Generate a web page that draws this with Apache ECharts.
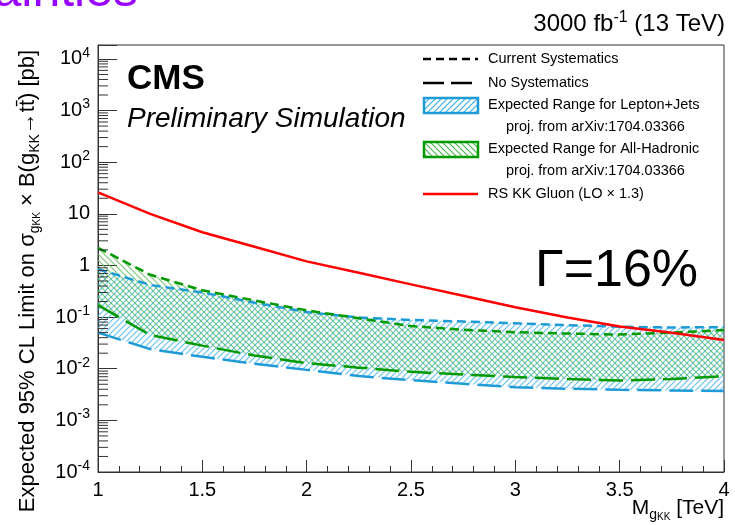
<!DOCTYPE html>
<html>
<head>
<meta charset="utf-8">
<script src="https://cdn.jsdelivr.net/npm/echarts@6/dist/echarts.min.js"></script>
<style>
  html, body { margin: 0; padding: 0; background: #fff; }
  #chart { width: 735px; height: 525px; }
</style>
</head>
<body>
<div id="chart"></div>
<script>
const FONT = '"Liberation Sans", Arial, Helvetica, sans-serif';

// KK gluon mass [TeV]
const mass = [1, 1.25, 1.5, 1.75, 2, 2.25, 2.5, 2.75, 3, 3.25, 3.5, 3.75, 4];
// lepton+jets expected range (upper = current syst, lower = no syst)
const ljCurrent = [0.85, 0.42, 0.30, 0.19, 0.125, 0.098, 0.088, 0.082, 0.076, 0.070, 0.065, 0.063, 0.064];
const ljNoSyst = [0.050, 0.024, 0.017, 0.0125, 0.0095, 0.0072, 0.0060, 0.0051, 0.0044, 0.0041, 0.0039, 0.0038, 0.0037];
// all-hadronic expected range
const ahCurrent = [2.2, 0.66, 0.33, 0.21, 0.135, 0.095, 0.067, 0.057, 0.051, 0.048, 0.046, 0.050, 0.056];
const ahNoSyst = [0.17, 0.045, 0.028, 0.018, 0.0128, 0.0105, 0.0087, 0.0077, 0.0069, 0.0063, 0.0059, 0.0063, 0.0072];
// RS KK gluon cross section (LO x 1.3)
const rsGluon = [26, 10, 4.4, 2.3, 1.2, 0.72, 0.43, 0.26, 0.155, 0.098, 0.066, 0.05, 0.036];

const yMin = 1e-4;
const yMax = 18600;
const decades = [-4, -3, -2, -1, 0, 1, 2, 3, 4];

const BLUE = '#1e9bd7';
const GREEN = '#009a00';
const RED = '#ff0000';

// log minor ticks 2..9 in each decade
const yMinor = [];
decades.forEach(function (d) {
  for (let k = 2; k <= 9; k++) {
    const v = k * Math.pow(10, d);
    if (v < yMax) yMinor.push(v);
  }
});

// hatch tile: dir > 0 draws '/', otherwise '\'
function hatch(color, dir) {
  const s = 6;
  const c = document.createElement('canvas');
  c.width = s; c.height = s;
  const g = c.getContext('2d');
  g.strokeStyle = color;
  g.lineWidth = 1.2;
  g.beginPath();
  if (dir > 0) {
    g.moveTo(0, s); g.lineTo(s, 0);
    g.moveTo(-1, 1); g.lineTo(1, -1);
    g.moveTo(s - 1, s + 1); g.lineTo(s + 1, s - 1);
  } else {
    g.moveTo(0, 0); g.lineTo(s, s);
    g.moveTo(s - 1, -1); g.lineTo(s + 1, 1);
    g.moveTo(-1, s - 1); g.lineTo(1, s + 1);
  }
  g.stroke();
  return { image: c, repeat: 'repeat' };
}

const blueHatch = hatch('#38aee8', 1);
const greenHatch = hatch('#4fb64f', -1);

function band(name, upper, lower, fill) {
  return {
    type: 'custom',
    name: name,
    z: 1,
    silent: true,
    clip: true,
    data: [[mass[0], upper[0]]],
    renderItem: function (params, api) {
      const top = mass.map(function (m, i) { return api.coord([m, upper[i]]); });
      const bot = mass.map(function (m, i) { return api.coord([m, lower[i]]); }).reverse();
      return { type: 'polygon', shape: { points: top.concat(bot) }, style: { fill: fill, opacity: 0.75 } };
    }
  };
}

function curve(name, values, color, dash) {
  return {
    type: 'line',
    name: name,
    z: 3,
    showSymbol: false,
    silent: true,
    clip: true,
    data: mass.map(function (m, i) { return [m, values[i]]; }),
    lineStyle: { color: color, width: 2.5, type: dash }
  };
}

const SHORT = [9, 5];
const LONG = [24, 8];

const supRich = {
  b: { fontSize: 20, lineHeight: 26, fontFamily: FONT, color: '#000' },
  p: { fontSize: 14, lineHeight: 16, fontFamily: FONT, color: '#000', verticalAlign: 'top' }
};

const titleRich = {
  s: { fontSize: 14, lineHeight: 17, fontFamily: FONT, color: '#000', verticalAlign: 'bottom' },
  ss: { fontSize: 10, lineHeight: 11, fontFamily: FONT, color: '#000', verticalAlign: 'bottom' },
  p: { fontSize: 16, lineHeight: 16, fontFamily: FONT, color: '#000', verticalAlign: 'top' }
};

const legendText = function (x, y, text) {
  return {
    type: 'text', x: x, y: y,
    style: { text: text, font: '14.5px ' + FONT, fill: '#000', textVerticalAlign: 'middle', verticalAlign: 'middle' }
  };
};

const chart = echarts.init(document.getElementById('chart'));

const option = {
  animation: false,
  backgroundColor: '#fff',
  grid: {
    left: 98, right: 11, top: 45, bottom: 53,
    show: true, borderColor: '#333', borderWidth: 1, backgroundColor: 'transparent'
  },
  xAxis: {
    type: 'value',
    min: 1, max: 4, interval: 0.5,
    axisLine: { lineStyle: { color: '#333', width: 1 } },
    axisTick: { inside: true, length: 12, lineStyle: { color: '#333' } },
    minorTick: { show: true, splitNumber: 5, length: 6, lineStyle: { color: '#333' } },
    splitLine: { show: false },
    axisLabel: {
      margin: 8, fontSize: 20, color: '#000', fontFamily: FONT,
      formatter: function (v) { return String(v); }
    }
  },
  yAxis: {
    type: 'log',
    logBase: 10,
    min: yMin, max: yMax,
    axisLine: { lineStyle: { color: '#333', width: 1 } },
    axisTick: { inside: true, length: 19, lineStyle: { color: '#333' } },
    splitLine: { show: false },
    axisLabel: {
      margin: 8, color: '#000', fontFamily: FONT,
      rich: supRich,
      formatter: function (v) {
        const l = Math.log10(v);
        const e = Math.round(l);
        if (Math.abs(l - e) > 0.01) return '';
        if (e === 0) return '{b|1}';
        if (e === 1) return '{b|10}';
        return '{b|10}{p|' + e + '}';
      }
    }
  },
  series: [
    band('Expected Range for Lepton+Jets', ljCurrent, ljNoSyst, blueHatch),
    band('Expected Range for All-Hadronic', ahCurrent, ahNoSyst, greenHatch),
    curve('LJ current', ljCurrent, BLUE, SHORT),
    curve('LJ no syst', ljNoSyst, BLUE, LONG),
    curve('AH current', ahCurrent, GREEN, SHORT),
    curve('AH no syst', ahNoSyst, GREEN, LONG),
    curve('RS KK Gluon', rsGluon, RED, 'solid'),
    {
      type: 'custom',
      name: 'minor ticks',
      z: 5,
      silent: true,
      clip: false,
      data: yMinor.map(function (v) { return [1, v]; }),
      renderItem: function (params, api) {
        const p = api.coord([api.value(0), api.value(1)]);
        return {
          type: 'line',
          shape: { x1: p[0], y1: p[1], x2: p[0] + 10, y2: p[1] },
          style: { stroke: '#333', lineWidth: 1 }
        };
      }
    }
  ],
  graphic: [
    {
      type: 'text', x: 138, y: 17,
      style: { text: 'Uncertainties', font: '50px ' + FONT, fill: '#9900ff', textAlign: 'right', align: 'right', textVerticalAlign: 'bottom', verticalAlign: 'bottom' }
    },
    {
      type: 'text', x: 725, y: 24,
      style: {
        text: '3000 fb{p|-1} (13 TeV)', font: '24px ' + FONT, fill: '#000', lineHeight: 28,
        rich: titleRich, textAlign: 'right', align: 'right', textVerticalAlign: 'middle', verticalAlign: 'middle'
      }
    },
    {
      type: 'text', x: 127, y: 79,
      style: { text: 'CMS', font: 'bold 35px ' + FONT, fill: '#000', textVerticalAlign: 'middle', verticalAlign: 'middle' }
    },
    {
      type: 'text', x: 127, y: 119,
      style: { text: 'Preliminary Simulation', font: 'italic 28px ' + FONT, fill: '#000', textVerticalAlign: 'middle', verticalAlign: 'middle' }
    },
    {
      type: 'text', x: 535, y: 272,
      style: { text: 'Γ=16%', font: '52px ' + FONT, fill: '#000', textVerticalAlign: 'middle', verticalAlign: 'middle' }
    },
    {
      type: 'text', x: 28, y: 281, rotation: Math.PI / 2,
      style: {
        text: 'Expected 95% CL Limit on σ{s|g}{ss|KK} × B(g{s|KK}→tt\u0304) [pb]',
        font: '22px ' + FONT, fill: '#000', lineHeight: 28, rich: titleRich,
        textAlign: 'center', align: 'center', textVerticalAlign: 'middle', verticalAlign: 'middle'
      }
    },
    {
      type: 'text', x: 724, y: 508,
      style: {
        text: 'M{s|g}{ss|KK} [TeV]', font: '21px ' + FONT, fill: '#000', lineHeight: 28, rich: titleRich,
        textAlign: 'right', align: 'right', textVerticalAlign: 'middle', verticalAlign: 'middle'
      }
    },
    // legend
    { type: 'line', shape: { x1: 423, y1: 59, x2: 478, y2: 59 }, style: { stroke: '#000', lineWidth: 2.5, lineDash: [8, 5] } },
    { type: 'line', shape: { x1: 423, y1: 83, x2: 478, y2: 83 }, style: { stroke: '#000', lineWidth: 2.5, lineDash: [21, 7] } },
    { type: 'rect', shape: { x: 424, y: 98, width: 54, height: 15 }, style: { fill: blueHatch, stroke: BLUE, lineWidth: 2.5 } },
    { type: 'rect', shape: { x: 424, y: 142, width: 54, height: 15 }, style: { fill: greenHatch, stroke: GREEN, lineWidth: 2.5 } },
    { type: 'line', shape: { x1: 423, y1: 194, x2: 478, y2: 194 }, style: { stroke: RED, lineWidth: 2.5 } },
    legendText(488, 59, 'Current Systematics'),
    legendText(488, 83, 'No Systematics'),
    legendText(488, 105, 'Expected Range for Lepton+Jets'),
    legendText(506, 127, 'proj. from arXiv:1704.03366'),
    legendText(488, 149, 'Expected Range for All-Hadronic'),
    legendText(506, 171, 'proj. from arXiv:1704.03366'),
    legendText(488, 194, 'RS KK Gluon (LO × 1.3)')
  ]
};

chart.setOption(option);
</script>
</body>
</html>
